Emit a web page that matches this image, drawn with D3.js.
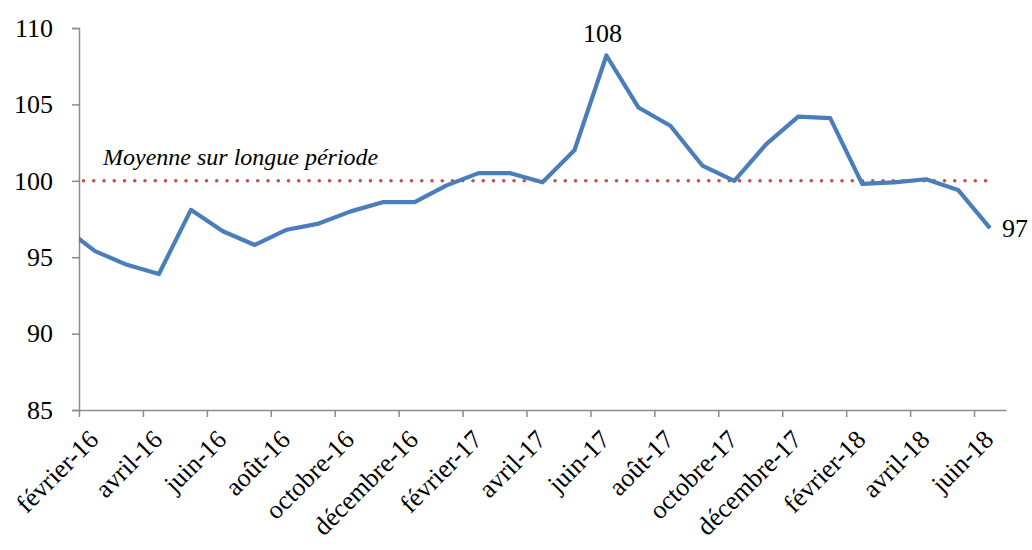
<!DOCTYPE html>
<html>
<head>
<meta charset="utf-8">
<script src="https://cdn.jsdelivr.net/npm/d3@7"></script>
<style>
  html, body { margin: 0; padding: 0; background: #fff; }
  svg { display: block; }
  text { font-family: "Liberation Serif", "Times New Roman", serif; fill: #000; }
</style>
</head>
<body>
<svg id="chart" width="1032" height="550"></svg>
<script>
// Monthly index values, janvier 2016 to juin 2018 (100 = long-run average)
const months = [
  "janvier-16", "février-16", "mars-16", "avril-16", "mai-16", "juin-16",
  "juillet-16", "août-16", "septembre-16", "octobre-16", "novembre-16", "décembre-16",
  "janvier-17", "février-17", "mars-17", "avril-17", "mai-17", "juin-17",
  "juillet-17", "août-17", "septembre-17", "octobre-17", "novembre-17", "décembre-17",
  "janvier-18", "février-18", "mars-18", "avril-18", "mai-18", "juin-18"
];
const values = [
  97.0, 95.4, 94.5, 93.9, 98.1, 96.7,
  95.8, 96.8, 97.2, 98.0, 98.6, 98.6,
  99.7, 100.5, 100.5, 99.9, 102.0, 108.2,
  104.8, 103.6, 101.0, 100.0, 102.4, 104.2,
  104.1, 99.8, 99.9, 100.1, 99.4, 96.9
];
const longRunAverage = 100;
const averageLabel = "Moyenne sur longue période";
const yTicks = [85, 90, 95, 100, 105, 110];
// Axis labels every second month, février-16 to juin-18
const xTickLabels = [
  "février-16", "avril-16", "juin-16", "août-16", "octobre-16", "décembre-16",
  "février-17", "avril-17", "juin-17", "août-17", "octobre-17", "décembre-17",
  "février-18", "avril-18", "juin-18"
];

const svg = d3.select("#chart");
const plot = { left: 79, right: 1006, top: 28, bottom: 410 };

// Month index 0 = start of février-16; the axis runs to the start of juillet-18.
const firstAxisMonth = months.indexOf("février-16");
const x = d3.scaleLinear()
  .domain([0, 29])
  .range([plot.left, plot.right]);
// Each observation sits in the middle of its month
const monthPos = i => x(i - firstAxisMonth + 0.5);

const y = d3.scaleLinear()
  .domain([85, 110])
  .range([plot.bottom, plot.top]);

svg.append("defs").append("clipPath").attr("id", "plotClip")
  .append("rect")
  .attr("x", plot.left).attr("y", 0)
  .attr("width", plot.right - plot.left).attr("height", plot.bottom + 5);

// Y axis
const yAxis = svg.append("g")
  .attr("transform", `translate(${plot.left},0)`)
  .call(d3.axisLeft(y).tickValues(yTicks).tickSize(7).tickPadding(19).tickFormat(d3.format("d")));
yAxis.select(".domain").attr("stroke", "#8c8c8c").attr("stroke-width", 1.5);
yAxis.selectAll(".tick line").attr("stroke", "#8c8c8c").attr("stroke-width", 1.5);
yAxis.selectAll(".tick text")
  .attr("font-size", 26)
  .attr("font-family", "Liberation Serif, serif")
  .attr("fill", "#111");

// X axis
const xTickIdx = xTickLabels.map(l => months.indexOf(l) - firstAxisMonth);
const xAxis = svg.append("g")
  .attr("transform", `translate(0,${plot.bottom})`)
  .call(d3.axisBottom(x).tickValues(xTickIdx).tickSize(7).tickSizeOuter(0).tickFormat(""));
xAxis.select(".domain").attr("stroke", "#8c8c8c").attr("stroke-width", 1.5);
xAxis.selectAll(".tick line").attr("stroke", "#8c8c8c").attr("stroke-width", 1.5);

svg.append("g").selectAll("text")
  .data(xTickLabels)
  .join("text")
  .attr("transform", d => `translate(${x(months.indexOf(d) - firstAxisMonth) + 21},${plot.bottom + 31}) rotate(-45)`)
  .attr("text-anchor", "end")
  .attr("font-size", 26)
  .attr("fill", "#111")
  .text(d => d);

const plotArea = svg.append("g").attr("clip-path", "url(#plotClip)");

// Long-run average, dotted
plotArea.append("path")
  .datum(months)
  .attr("fill", "none")
  .attr("stroke", "#c0504d")
  .attr("stroke-width", 3.6)
  .attr("stroke-linecap", "round")
  .attr("stroke-dasharray", "0 10.25")
  .attr("d", d3.line().x((d, i) => monthPos(i)).y(() => y(longRunAverage)));

svg.append("text")
  .attr("x", 103)
  .attr("y", 165)
  .attr("font-size", 24)
  .attr("font-style", "italic")
  .attr("fill", "#111")
  .text(averageLabel);

// Index series
plotArea.append("path")
  .datum(values)
  .attr("fill", "none")
  .attr("stroke", "#4a7ebb")
  .attr("stroke-width", 4.2)
  .attr("stroke-linejoin", "round")
  .attr("d", d3.line().x((d, i) => monthPos(i)).y(d => y(d)));

// Value labels
const fmt = d3.format(".0f");
const peak = months.indexOf("juin-17");
const last = months.indexOf("juin-18");
svg.append("text")
  .attr("x", monthPos(peak) - 4)
  .attr("y", y(values[peak]) - 14)
  .attr("text-anchor", "middle")
  .attr("font-size", 26)
  .attr("fill", "#111")
  .text(fmt(values[peak]));
svg.append("text")
  .attr("x", monthPos(last) + 12)
  .attr("y", y(values[last]) + 9)
  .attr("text-anchor", "start")
  .attr("font-size", 26)
  .attr("fill", "#111")
  .text(fmt(values[last]));
</script>
</body>
</html>
